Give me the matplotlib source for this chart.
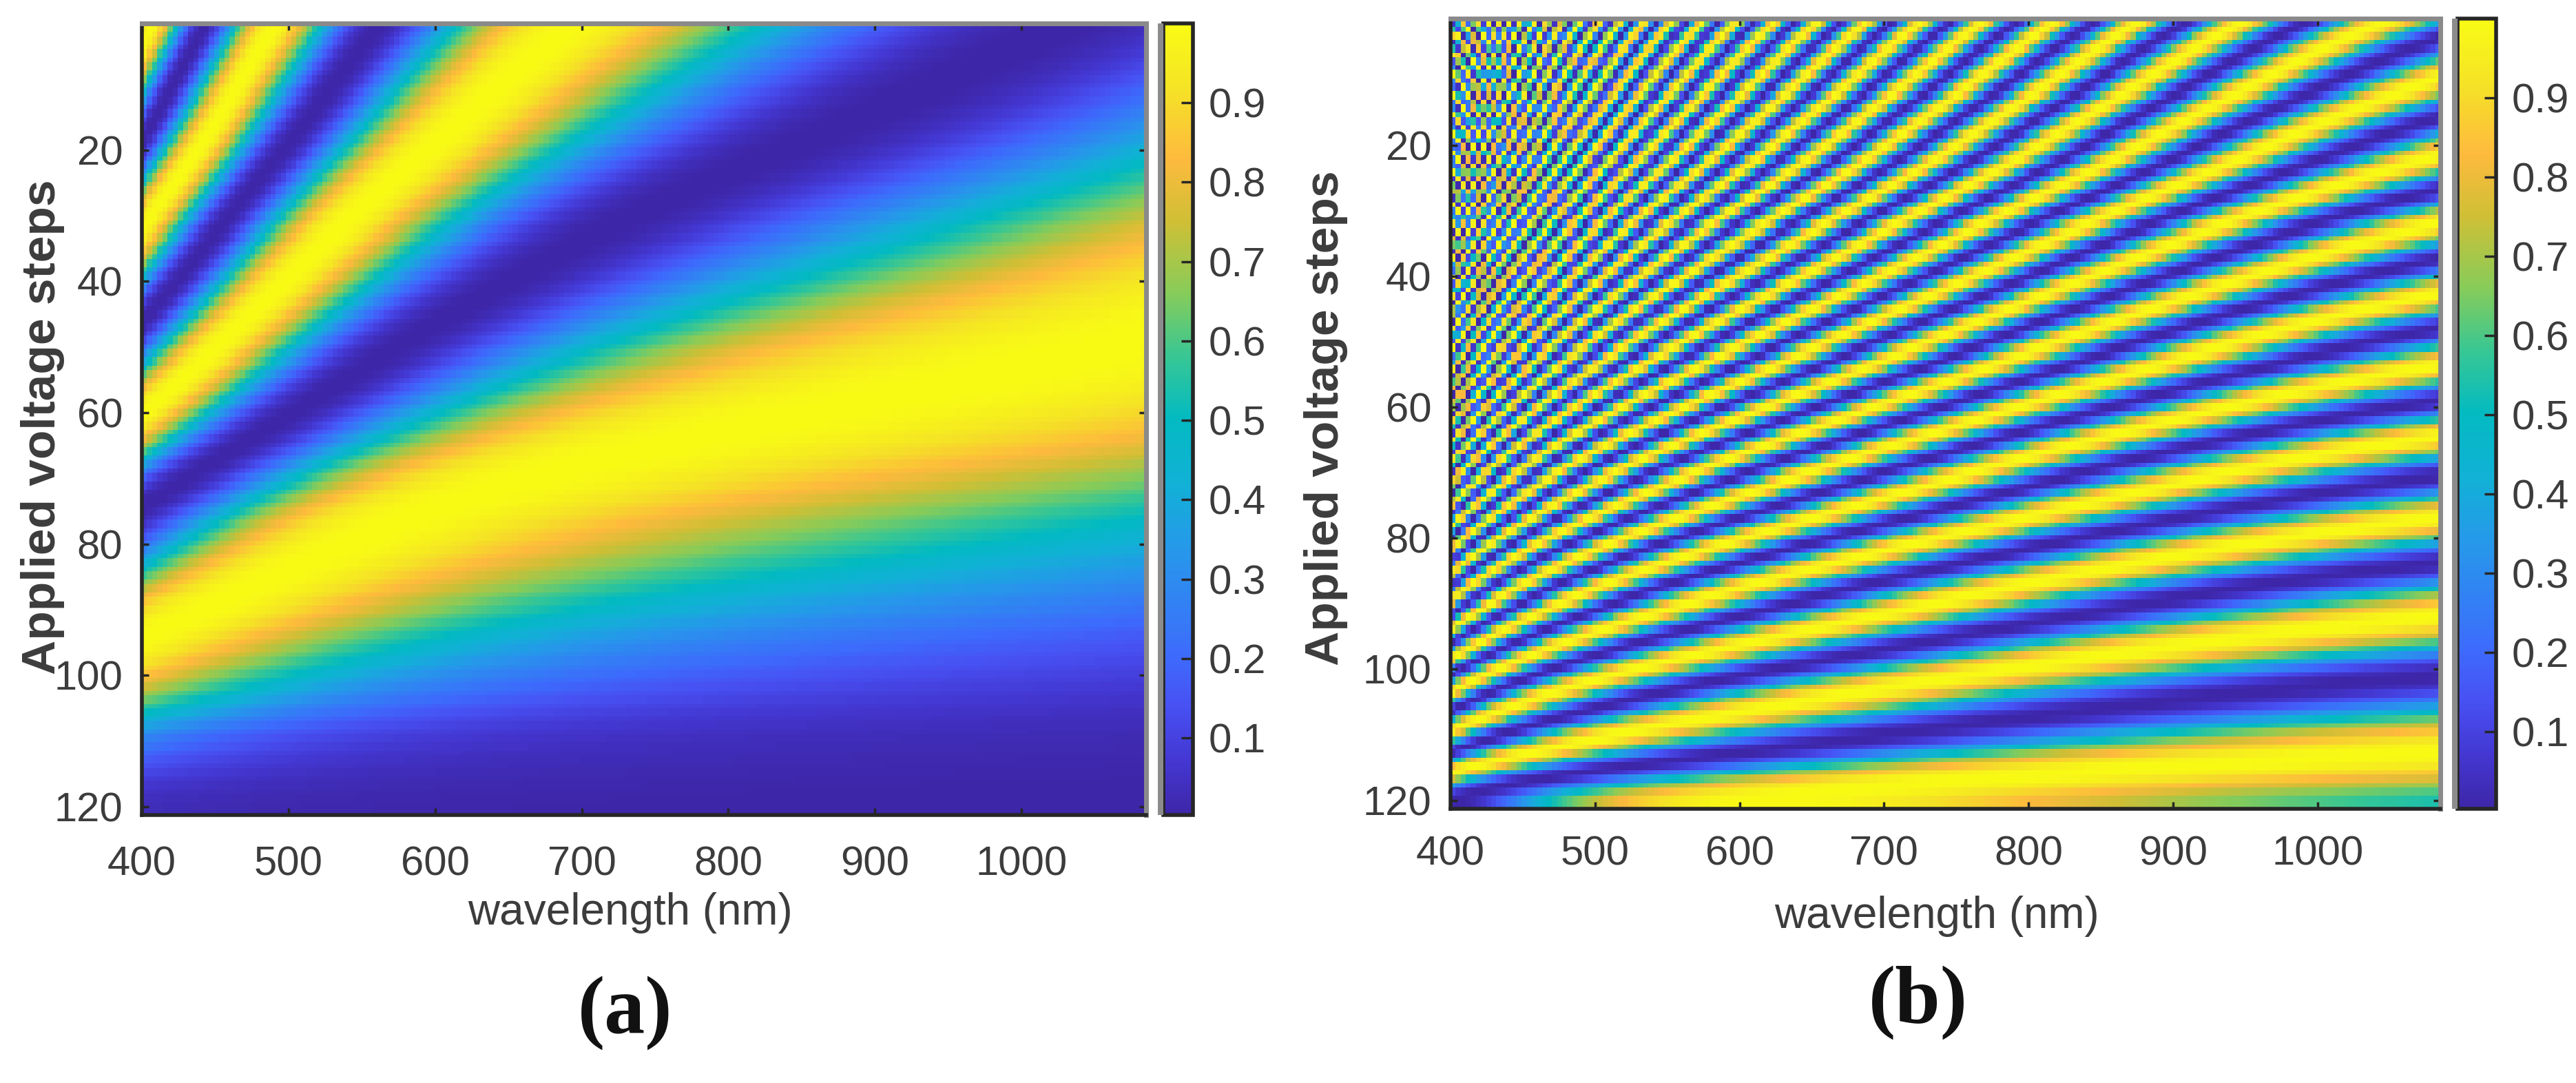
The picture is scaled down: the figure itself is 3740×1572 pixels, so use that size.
import numpy as np
import matplotlib
matplotlib.use("Agg")
import matplotlib.pyplot as plt
from matplotlib.colors import LinearSegmentedColormap
from matplotlib.patches import Rectangle

W, H = 3741, 1572

# the maps have far too many cells to type in, so they are rebuilt from fringes read off the picture:
# at 1085 nm, fringe order against voltage step (bright at x.5, dark at whole numbers)
steps_a = [120, 110, 100, 94, 74, 60, 46, 31.5, 18, 3.3, -2]
order_a = [0.013, 0.045, 0.1, 0.132, 0.263, 0.395, 0.526, 0.658, 0.789, 0.921, 0.965]

steps_b = [120, 119, 112.9, 101.2, 92, 84, 77, 70.6, 64.7, 59.1, 53.6, 48.2, 42.8, 37.4, 32, 27, 21.8, 15.6, 10.1, 3.6, -1.8, -7.2]
order_b = [0.24, 0.263, 0.5, 1, 1.5, 2, 2.5, 3, 3.5, 4, 4.5, 5, 5.5, 6, 6.5, 7, 7.5, 8, 8.5, 9, 9.5, 10]

# how many times more fringes there are at a wavelength than at 1085 nm
ratio_wl_a = [400, 444, 494, 566, 699, 800, 900, 1000, 1085]
ratio_a = [3.8, 3.13, 2.61, 2.09, 1.567, 1.365, 1.21, 1.09, 1.0]

ratio_wl_b = [400, 450, 500, 550, 600, 640, 680, 721, 765, 813, 872, 945, 1035, 1085]
ratio_b = [3.9, 3.05, 2.55, 2.22, 1.98, 1.83, 1.70, 1.576, 1.47, 1.36, 1.25, 1.14, 1.033, 1.0]

x_ticks = [400, 500, 600, 700, 800, 900, 1000]
y_ticks = [20, 40, 60, 80, 100, 120]
cbar_ticks = [0.1, 0.2, 0.3, 0.4, 0.5, 0.6, 0.7, 0.8, 0.9]

cmap_pos = [0, 0.07, 0.14, 0.2, 0.33, 0.42, 0.5, 0.58, 0.66, 0.75, 0.83, 0.92, 1]
cmap_col = [(.2422, .1504, .6603), (.2670, .2200, .8300), (.2810, .3228, .9579), (.2400, .4200, .9900),
            (.1540, .5902, .9218), (.0689, .6948, .8394), (.0100, .7300, .7600), (.2200, .7800, .5800),
            (.5300, .8000, .3500), (.8100, .7500, .2100), (.9950, .7300, .2400), (.9600, .8900, .1500),
            (.9769, .9839, .0805)]
parula = LinearSegmentedColormap.from_list("parula", list(zip(cmap_pos, cmap_col)), N=256)

plt.rcParams['font.family'] = ['Liberation Sans', 'DejaVu Sans']
DARK = '#262626'
TEXT = '#3c3c3c'


def box(x0, y0, x1, y1):
    return [x0 / W, 1 - y1 / H, (x1 - x0) / W, (y1 - y0) / H]


def fringe_map(steps, order, wl, rt, n_rows=185, n_cols=195):
    # one row per screen pixel, like the original low-res screenshot
    rows = np.clip(np.round(np.linspace(0.7, 121.3, n_rows)), 1, 120)
    wave = np.round(np.linspace(400, 1085, n_cols))
    fine = np.arange(-2, 121.01, 0.25)
    n = np.interp(fine, steps[::-1], order[::-1])
    n = np.convolve(np.pad(n, 12, mode='edge'), np.ones(25) / 25, mode='valid')
    n_rows_val = np.interp(rows, fine, n)
    fit = np.polyfit(np.log(wl), np.log(rt), 4)
    r = np.exp(np.polyval(fit, np.log(wave)))
    return np.sin(np.pi * np.outer(n_rows_val, r)) ** 2


def panel(ax_box, cb_box, data, label_x, label_y, ylabel_x, ylabel_y, x_pad):
    ax = fig.add_axes(box(*ax_box))
    im = ax.imshow(data, cmap=parula, vmin=0.003, vmax=1, aspect='auto', interpolation='nearest',
                   extent=[400, 1085, 121.3, 0.7])
    ax.set_xticks(x_ticks)
    ax.set_yticks(y_ticks)
    ax.tick_params(direction='in', length=7, width=2.5, color=DARK, top=True, right=True,
                   labelsize=43, labelcolor=TEXT, pad=20)
    ax.tick_params(axis='x', pad=x_pad)
    for s in ['left', 'bottom']:
        ax.spines[s].set_color(DARK)
        ax.spines[s].set_linewidth(4)
    for s in ['top', 'right']:
        ax.spines[s].set_color('#8a8a8a')
        ax.spines[s].set_linewidth(5)
    fig.text(label_x / W, 1 - label_y / H, 'wavelength (nm)', fontsize=46, color=TEXT,
             ha='center', va='center')
    fig.text(ylabel_x / W, 1 - ylabel_y / H, 'Applied voltage steps', fontsize=50, fontweight='bold', color=TEXT,
             rotation=90, ha='center', va='center')

    cax = fig.add_axes(box(*cb_box))
    cb = fig.colorbar(im, cax=cax)
    cb.set_ticks(cbar_ticks)
    cb.ax.tick_params(direction='in', length=12, width=2.5, color=DARK, labelsize=43, labelcolor=TEXT, pad=16)
    cb.outline.set_edgecolor(DARK)
    cb.outline.set_linewidth(4)
    # grey smear left of the colorbar in the screenshot
    fig.add_artist(Rectangle(((cb_box[0] - 8) / W, 1 - cb_box[3] / H), 8 / W, (cb_box[3] - cb_box[1]) / H,
                             transform=fig.transFigure, color='#8c8c8c', lw=0))
    return ax


fig = plt.figure(figsize=(W / 100, H / 100), dpi=100, facecolor='white')

panel((206, 34, 1664, 1183), (1689, 34, 1732, 1183), fringe_map(steps_a, order_a, ratio_wl_a, ratio_a),
      915, 1325, 62, 620, 32)
panel((2106, 27, 3543, 1174), (3568, 27, 3624, 1174), fringe_map(steps_b, order_b, ratio_wl_b, ratio_b),
      2812, 1330, 1925, 607, 28)

fig.text(908 / W, 1 - 1470 / H, '(a)', family='Liberation Serif', fontweight='bold', fontsize=85,
         color='#111111', ha='center', va='center')
fig.text(2785 / W, 1 - 1455 / H, '(b)', family='Liberation Serif', fontweight='bold', fontsize=85,
         color='#111111', ha='center', va='center')

fig.savefig('out.png', dpi=100)
